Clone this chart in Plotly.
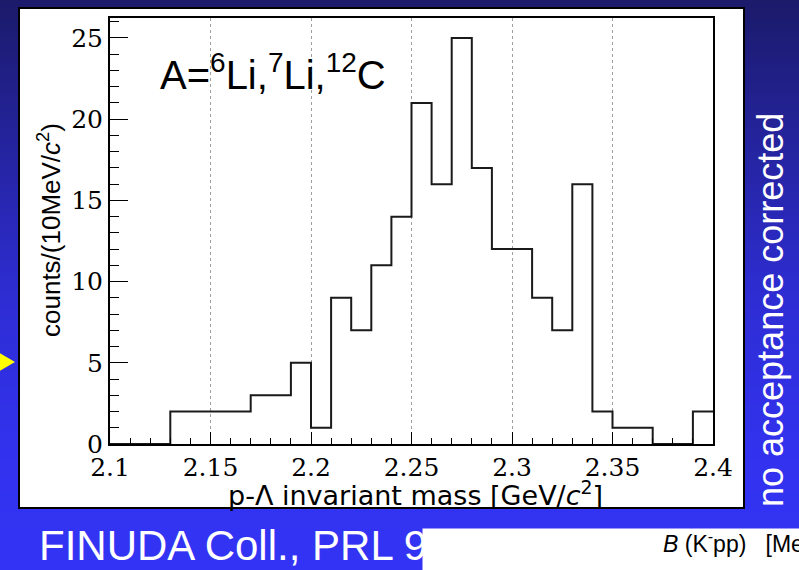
import numpy as np
import plotly.graph_objects as go

# p-Lambda invariant mass spectrum, counts per 10 MeV/c^2 bin
bin_low = 2.10
bin_width = 0.01
counts = [0, 0, 0, 2, 2, 2, 2, 3, 3, 5,
          1, 9, 7, 11, 14, 21, 16, 25, 17, 12,
          12, 9, 7, 16, 2, 1, 1, 0, 0, 2]

x_ticks = [2.1, 2.15, 2.2, 2.25, 2.3, 2.35, 2.4]
x_tick_labels = ["2.1", "2.15", "2.2", "2.25", "2.3", "2.35", "2.4"]
y_ticks = [0, 5, 10, 15, 20, 25]
y_tick_labels = ["0", "5", "10", "15", "20", "25"]

W, H = 799, 570
ML, MR, MT, MB = 110, 86, 18, 126
PW, PH = W - ML - MR, H - MT - MB


def px(xp):
    """page pixel x -> paper coordinate"""
    return (xp - ML) / PW


def py(yp):
    """page pixel y (from top) -> paper coordinate"""
    return (H - MB - yp) / PH


edges = bin_low + bin_width * np.arange(len(counts) + 1)
step_y = counts + [counts[-1]]

fig = go.Figure()
fig.add_trace(go.Scatter(
    x=edges, y=step_y, mode="lines",
    line=dict(shape="hv", color="#1a1a1a", width=2),
    hoverinfo="skip", showlegend=False,
))

shapes = []

# slide background: vertical blue gradient built from thin bands
stops = [(0, (27, 26, 106)), (150, (37, 36, 160)), (300, (46, 45, 212)),
         (450, (50, 50, 238)), (570, (51, 51, 245))]
band = 4
for y0 in range(0, H, band):
    yc = y0 + band / 2
    for (a, ca), (b, cb) in zip(stops[:-1], stops[1:]):
        if a <= yc <= b:
            t = (yc - a) / (b - a)
            c = tuple(int(round(ca[i] + (cb[i] - ca[i]) * t)) for i in range(3))
            break
    shapes.append(dict(
        type="rect", xref="paper", yref="paper", layer="below",
        x0=px(-2), x1=px(W + 2), y0=py(y0 + band + 0.5), y1=py(y0),
        fillcolor="rgb(%d,%d,%d)" % c, line=dict(width=0),
    ))

# white panel holding the histogram
shapes.append(dict(
    type="rect", xref="paper", yref="paper", layer="below",
    x0=px(19), x1=px(744), y0=py(508), y1=py(8),
    fillcolor="white", line=dict(color="black", width=2),
))

# yellow pointer on the left edge
shapes.append(dict(
    type="path", xref="paper", yref="paper", layer="above",
    path="M %f,%f L %f,%f L %f,%f Z" % (px(-2), py(352), px(15), py(362), px(-2), py(372)),
    fillcolor="#ffff00", line=dict(width=0),
))

annotations = [
    dict(text="A=<sup>6</sup>Li,<sup>7</sup>Li,<sup>12</sup>C",
         x=px(158), y=py(72), xanchor="left", yanchor="middle",
         font=dict(family="Liberation Sans", size=40, color="black")),
    dict(text="counts/(10MeV/<i>c</i><sup>2</sup>)", textangle=-90,
         x=px(50), y=py(230), xanchor="center", yanchor="middle",
         font=dict(family="Liberation Sans", size=26, color="black")),
    dict(text="p-Λ invariant mass [GeV/<i>c</i><sup>2</sup>]",
         x=px(415), y=py(493), xanchor="center", yanchor="middle",
         font=dict(family="DejaVu Sans", size=27, color="black")),
    dict(text="no acceptance corrected", textangle=-90,
         x=px(770), y=py(310), xanchor="center", yanchor="middle",
         font=dict(family="Liberation Sans", size=36, color="white")),
    dict(text="FINUDA Coll., PRL 94",
         x=px(37), y=py(545), xanchor="left", yanchor="middle",
         font=dict(family="Liberation Sans", size=42, color="white")),
    # inset panel in the lower right corner
    dict(text=" ", x=px(422), y=py(528), xanchor="left", yanchor="top",
         width=400, height=60, bgcolor="white", borderpad=0, showarrow=False),
    dict(text="<i>B</i> (K<sup>-</sup>pp)   [MeV]",
         x=px(661), y=py(542), xanchor="left", yanchor="middle",
         font=dict(family="Liberation Sans", size=23, color="black")),
]
for a in annotations:
    a.setdefault("showarrow", False)
    a["xref"] = "paper"
    a["yref"] = "paper"

axis_common = dict(
    ticks="inside", tickcolor="black", tickwidth=1,
    showline=True, linecolor="black", linewidth=2, mirror=True,
    zeroline=False,
    tickfont=dict(family="DejaVu Serif, Liberation Serif, serif", size=25, color="black"),
)

fig.update_layout(
    width=W, height=H,
    margin=dict(l=ML, r=MR, t=MT, b=MB, pad=0),
    paper_bgcolor="rgb(46,45,212)",
    plot_bgcolor="white",
    shapes=shapes,
    annotations=annotations,
    showlegend=False,
    xaxis=dict(
        range=[edges[0], edges[-1]],
        tickmode="array", tickvals=x_ticks, ticktext=x_tick_labels,
        ticklen=12,
        showgrid=True, gridcolor="#a0a0a0", gridwidth=1, griddash="dot",
        minor=dict(dtick=bin_width, tick0=bin_low, ticks="inside", ticklen=6,
                   tickcolor="black", tickwidth=1, showgrid=False),
        **axis_common,
    ),
    yaxis=dict(
        range=[0, 26.23],
        tickmode="array", tickvals=y_ticks, ticktext=y_tick_labels,
        ticklen=18,
        showgrid=False,
        minor=dict(dtick=1, tick0=0, ticks="inside", ticklen=9,
                   tickcolor="black", tickwidth=1, showgrid=False),
        **axis_common,
    ),
)

fig.write_html("out.html")
